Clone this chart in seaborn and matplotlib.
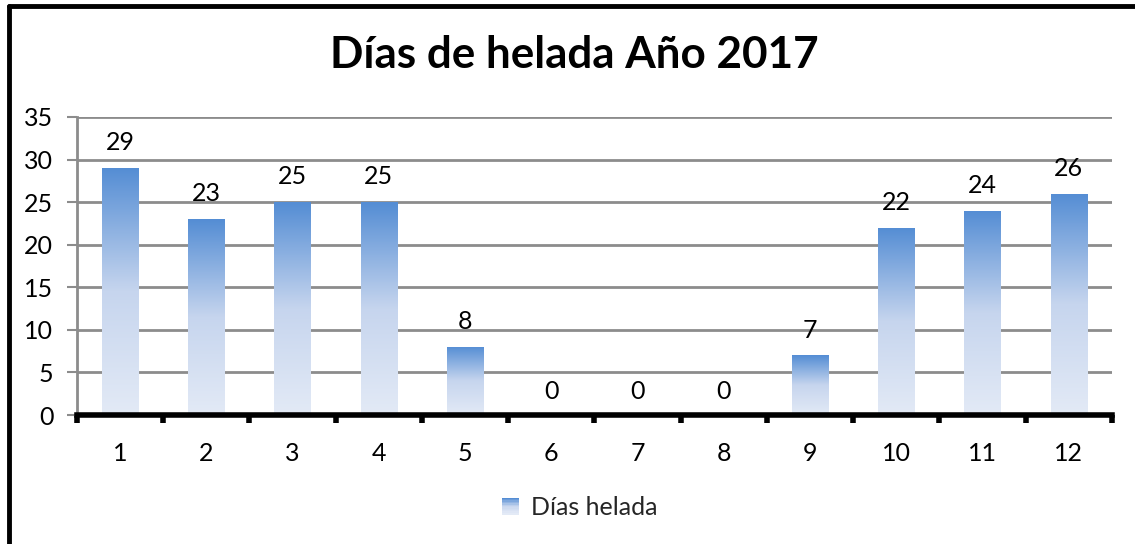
import numpy as np
import matplotlib
matplotlib.use("Agg")
import matplotlib.pyplot as plt
import seaborn as sns
from matplotlib.lines import Line2D
from matplotlib.patches import Rectangle
from matplotlib.legend_handler import HandlerBase
from matplotlib.colors import LinearSegmentedColormap

# Data
meses = ["1", "2", "3", "4", "5", "6", "7", "8", "9", "10", "11", "12"]
dias_helada = [29, 23, 25, 25, 8, 0, 0, 0, 7, 22, 24, 26]
serie = "Días helada"
titulo = "Días de helada Año 2017"

sns.set_style("white")
plt.rcParams["font.family"] = ["Lato", "DejaVu Sans"]

top_color = "#548dd4"
bottom_color = "#e3eaf6"
grad = LinearSegmentedColormap.from_list("grad", [bottom_color, "#c6d5ee", top_color])

fig = plt.figure(figsize=(11.35, 5.44), dpi=100)
ax = fig.add_axes([0.0678, 0.237, 0.9119, 0.548])

sns.barplot(x=meses, y=dias_helada, ax=ax, width=0.42, color=top_color,
            edgecolor="none", zorder=3)

# gradient fill for each bar
ax.set_xlim(-0.5, 11.5)
ax.set_ylim(0, 35)
g = np.linspace(0, 1, 256).reshape(-1, 1)
for bar in ax.patches:
    x0, y0 = bar.get_x(), bar.get_y()
    w, h = bar.get_width(), bar.get_height()
    bar.set_facecolor("none")
    if h <= 0:
        continue
    im = ax.imshow(g, cmap=grad, origin="lower", aspect="auto",
                   extent=[x0, x0 + w, y0, y0 + h], zorder=3)
    im.set_clip_path(bar)
ax.set_xlim(-0.5, 11.5)
ax.set_ylim(0, 35)

fs = 18

# data labels
for i, v in enumerate(dias_helada):
    off = 10 if v > 0 else 9
    ax.annotate(str(v), (i, v), xytext=(0, off), textcoords="offset points",
                ha="center", va="bottom", fontsize=fs, color="black")

# axes styling
ax.set_yticks(np.arange(0, 36, 5))
ax.yaxis.grid(True, color="#8c8c8c", linewidth=2, zorder=0)
ax.set_axisbelow(True)
for s in ["top", "right"]:
    ax.spines[s].set_visible(False)
ax.spines["left"].set_color("#8c8c8c")
ax.spines["left"].set_linewidth(2)
ax.spines["bottom"].set_color("black")
ax.spines["bottom"].set_linewidth(4)
ax.spines["bottom"].set_zorder(5)
ax.tick_params(axis="y", left=True, length=7, width=1.5, color="#8c8c8c",
               labelsize=fs, pad=10, labelcolor="black")
ax.set_xticks(np.arange(-0.5, 12, 1), minor=True)
ax.tick_params(axis="x", which="minor", bottom=True, length=6, width=4, color="black")
ax.tick_params(axis="x", which="major", bottom=False, labelsize=fs, pad=16,
               labelcolor="black")
ax.set_xlabel("")
ax.set_ylabel("")

fig.text(0.506, 0.898, titulo, ha="center", va="center", fontsize=31.7,
         fontweight="bold", color="black")


class GradientHandler(HandlerBase):
    def create_artists(self, legend, orig_handle, xdescent, ydescent, width,
                       height, fontsize, trans):
        n = 12
        side = height * 0.95
        x = xdescent + (width - side) / 2
        arts = []
        for k in range(n):
            c = grad(1 - k / (n - 1))
            r = Rectangle((x, -ydescent + side * (n - 1 - k) / n),
                          side, side / n + 0.2, facecolor=c, edgecolor="none",
                          transform=trans)
            arts.append(r)
        return arts


handle = Rectangle((0, 0), 1, 1)
fig.legend([handle], [serie], loc="center", bbox_to_anchor=(0.51, 0.068),
           frameon=False, fontsize=fs, handler_map={Rectangle: GradientHandler()},
           handlelength=0.8, handletextpad=0.4)

# chart border (top and left visible)
fig.add_artist(Line2D([0.0075, 1.0], [0.9895, 0.9895], transform=fig.transFigure,
                      color="black", linewidth=3.5))
fig.add_artist(Line2D([0.0075, 0.0075], [0.0, 0.9895], transform=fig.transFigure,
                      color="black", linewidth=3.5))

fig.savefig("out.png", dpi=100)
